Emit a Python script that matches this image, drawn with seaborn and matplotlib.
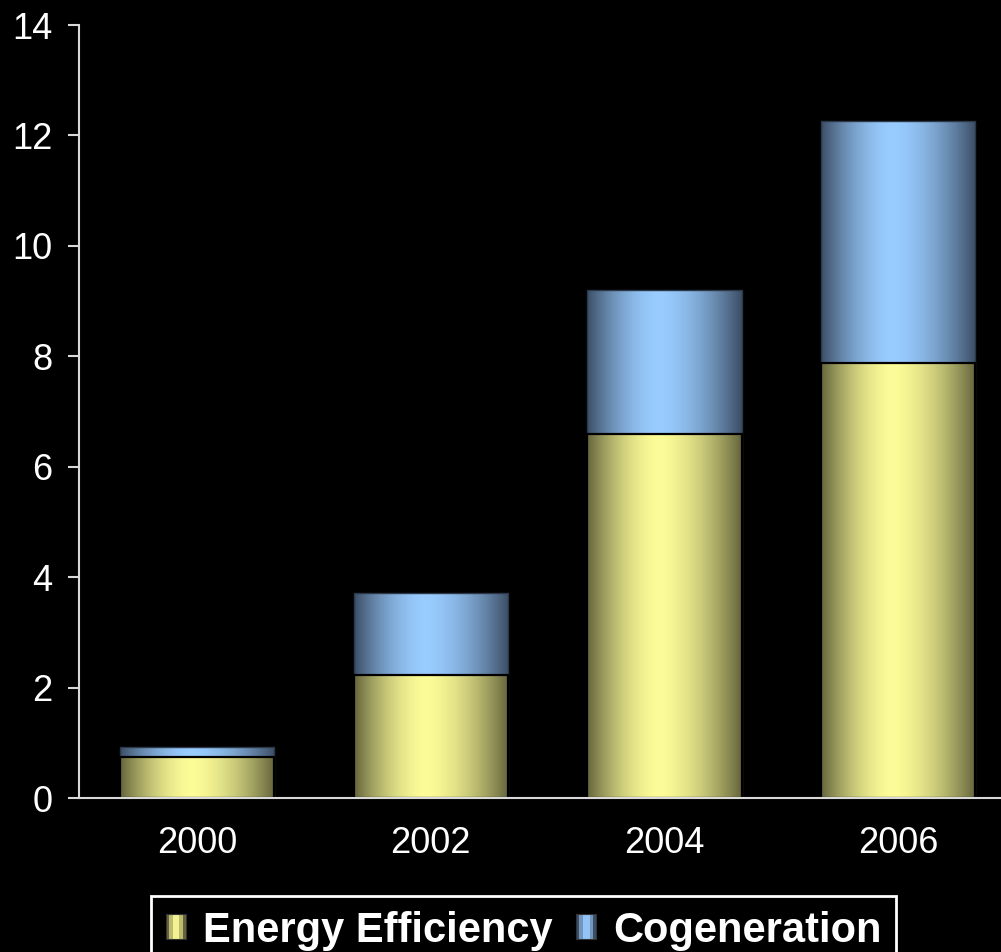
import numpy as np
import pandas as pd
import matplotlib
matplotlib.use("Agg")
import matplotlib.pyplot as plt
import seaborn as sns
from matplotlib.legend_handler import HandlerBase
from matplotlib.patches import Rectangle, Patch

# Chart data
years = ["2000", "2002", "2004", "2006"]
energy_efficiency = [0.74, 2.23, 6.59, 7.88]
cogeneration = [0.18, 1.48, 2.61, 4.38]
series_names = ["Energy Efficiency", "Cogeneration"]
y_ticks = [0, 2, 4, 6, 8, 10, 12, 14]

# Shading: dark edge colour and bright centre colour for each series
EE_DARK, EE_LIGHT = np.array([100, 100, 60]) / 255, np.array([252, 252, 152]) / 255
CG_DARK, CG_LIGHT = np.array([60, 78, 102]) / 255, np.array([153, 204, 255]) / 255


def shade_profile(n=256, peak=0.46):
    t = np.linspace(0, 1, n)
    d = np.where(t < peak, (peak - t) / peak, (t - peak) / (1 - peak))
    return 1 - d ** 1.7


def gradient_image(dark, light, n=256):
    f = shade_profile(n)[None, :, None]
    return dark[None, None, :] + (light - dark)[None, None, :] * f


sns.set_theme(style="ticks")
plt.rcParams["font.family"] = ["Liberation Sans", "DejaVu Sans"]

fig = plt.figure(figsize=(10.01, 9.52), dpi=100, facecolor="black")
ax = fig.add_axes([79 / 1001, 154 / 952, 922 / 1001, 773 / 952])
ax.set_facecolor("black")

df = pd.DataFrame({"year": years, "ee": energy_efficiency, "cog": cogeneration})
df["total"] = df["ee"] + df["cog"]

# Cogeneration stacked on top: draw the totals first, efficiency over them
sns.barplot(data=df, x="year", y="total", color=tuple(CG_LIGHT), saturation=1,
            width=0.66, errorbar=None, ax=ax)
n_cog = len(ax.patches)
sns.barplot(data=df, x="year", y="ee", color=tuple(EE_LIGHT), saturation=1,
            width=0.66, errorbar=None, ax=ax)

ax.set_ylim(0, 14)
ax.set_xlim(-0.505, 3.44)

cg_img = gradient_image(CG_DARK, CG_LIGHT)
ee_img = gradient_image(EE_DARK, EE_LIGHT)
for i, patch in enumerate(list(ax.patches)):
    is_cog = i < n_cog
    x0, y0 = patch.get_x(), patch.get_y()
    w, h = patch.get_width(), patch.get_height()
    base_z = 2 if is_cog else 3
    img = ax.imshow(cg_img if is_cog else ee_img, extent=[x0, x0 + w, y0, y0 + h],
                    aspect="auto", interpolation="bilinear", zorder=base_z)
    img.set_clip_path(patch)
    patch.set_facecolor("none")
    patch.set_zorder(base_z + 0.1)
    if is_cog:
        patch.set_edgecolor("#2c3848")
        patch.set_linewidth(1.0)
    else:
        patch.set_edgecolor("black")
        patch.set_linewidth(1.6)

ax.set_ylim(0, 14)
ax.set_xlim(-0.505, 3.44)
ax.set_yticks(y_ticks)
ax.set_xlabel("")
ax.set_ylabel("")

for side in ["top", "right"]:
    ax.spines[side].set_visible(False)
for side in ["left", "bottom"]:
    ax.spines[side].set_color("#d9d9d9")
    ax.spines[side].set_linewidth(1.5)
    ax.spines[side].set_zorder(5)

ax.tick_params(axis="y", colors="#d9d9d9", labelcolor="white", labelsize=26,
               length=8, width=1.5, pad=11, direction="out")
ax.tick_params(axis="x", length=0, pad=20, labelsize=26, labelcolor="white")


class StripedHandle(HandlerBase):
    """Legend key drawn as a small shaded square."""

    def __init__(self, dark, light):
        super().__init__()
        self.dark, self.light = dark, light

    def create_artists(self, legend, orig_handle, xdescent, ydescent,
                       width, height, fontsize, trans):
        prof = shade_profile(6, peak=0.5)
        arts = []
        n = len(prof)
        for k, f in enumerate(prof):
            c = self.dark + (self.light - self.dark) * f
            r = Rectangle((-xdescent + k * width / n, -ydescent), width / n, height,
                          facecolor=c, edgecolor="none", transform=trans)
            arts.append(r)
        arts.append(Rectangle((-xdescent, -ydescent), width, height, facecolor="none",
                              edgecolor="#333333", linewidth=0.8, transform=trans))
        return arts


h_ee = Patch(facecolor=tuple(EE_LIGHT))
h_cg = Patch(facecolor=tuple(CG_LIGHT))
leg = fig.legend(handles=[h_ee, h_cg], labels=series_names,
                 handler_map={h_ee: StripedHandle(EE_DARK, EE_LIGHT),
                              h_cg: StripedHandle(CG_DARK, CG_LIGHT)},
                 loc="upper left", bbox_to_anchor=(151 / 1001, 1 - 896 / 952),
                 ncol=2, frameon=True, fancybox=False, edgecolor="white",
                 facecolor="black", framealpha=1,
                 prop={"weight": "bold", "size": 30}, labelcolor="white",
                 handlelength=0.5, handleheight=0.55, handletextpad=0.4,
                 columnspacing=0.55, borderpad=0.35, borderaxespad=0)
leg.get_frame().set_linewidth(2)

fig.savefig("out.png", dpi=100, facecolor="black")
